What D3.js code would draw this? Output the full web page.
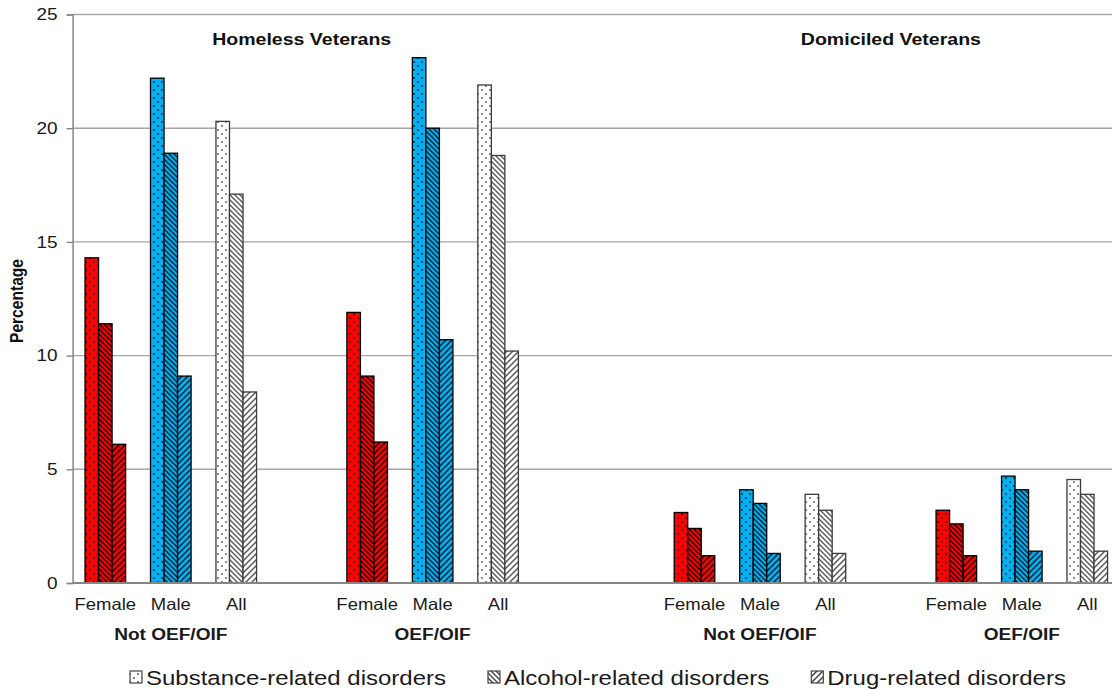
<!DOCTYPE html>
<html><head><meta charset="utf-8">
<script src="https://cdn.jsdelivr.net/npm/d3@7"></script>
<style>
html,body{margin:0;padding:0;background:#fff;}
svg{display:block;font-family:"Liberation Sans",Arial,sans-serif;}
</style></head>
<body>
<script>
// ---- data ----
const populations = ["Homeless Veterans", "Domiciled Veterans"];
const cohorts = ["Not OEF/OIF", "OEF/OIF"];
const genders = ["Female", "Male", "All"];
const seriesNames = ["Substance-related disorders", "Alcohol-related disorders", "Drug-related disorders"];
// order: Homeless NotOEF F,M,A | Homeless OEF F,M,A | Domiciled NotOEF F,M,A | Domiciled OEF F,M,A
const substance = [14.3, 22.2, 20.3, 11.9, 23.1, 21.9, 3.1, 4.1, 3.9, 3.2, 4.7, 4.55];
const alcohol   = [11.4, 18.9, 17.1, 9.1, 20.0, 18.8, 2.4, 3.5, 3.2, 2.6, 4.1, 3.9];
const drug      = [6.1, 9.1, 8.4, 6.2, 10.7, 10.2, 1.2, 1.3, 1.3, 1.2, 1.4, 1.4];
const yTicks = [0, 5, 10, 15, 20, 25];

// ---- layout ----
const W = 1112, H = 690;
const svg = d3.select("body").append("svg").attr("width", W).attr("height", H);
const plotL = 72.6, plotR = 1120, plotT = 14.5, plotB = 583;

// category slots including blank spacer slots
const slots = [];
populations.forEach((p, pi) => {
  cohorts.forEach((c, ci) => {
    genders.forEach(g => slots.push({key: p + "|" + c + "|" + g, p, c, g}));
    if (ci === 0) slots.push({key: "gap" + pi + "a", blank: true});
  });
  if (pi === 0) { slots.push({key: "gapM1", blank: true}); slots.push({key: "gapM2", blank: true}); }
});
const x = d3.scaleBand().domain(slots.map(s => s.key)).range([plotL, plotR]).paddingInner(0).paddingOuter(0);
const xs = d3.scaleBand().domain(seriesNames).range([0, x.bandwidth()]).paddingInner(0).paddingOuter(0.92);
const y = d3.scaleLinear().domain([0, 25]).range([plotB, plotT]);

const colors = {Female: "#ff0000", Male: "#00b0f0", All: "#ffffff"};
const inks = {Female: "#1a0000", Male: "#002030", All: "#5a5a5a"};
const strokes = {Female: "#000", Male: "#000", All: "#3a3a3a"};

// ---- patterns ----
const defs = svg.append("defs");
function makePattern(id, bg, ink, kind) {
  if (kind === 0) {
    const p = defs.append("pattern").attr("id", id).attr("patternUnits", "userSpaceOnUse").attr("width", 8).attr("height", 8);
    p.append("rect").attr("width", 8).attr("height", 8).attr("fill", bg);
    [[2, 2], [6, 6]].forEach(([cx, cy]) => p.append("circle").attr("cx", cx).attr("cy", cy).attr("r", 0.9).attr("fill", ink));
  } else if (kind === 1) {
    const s = 5;
    const p = defs.append("pattern").attr("id", id).attr("patternUnits", "userSpaceOnUse").attr("width", s).attr("height", s);
    p.append("rect").attr("width", s).attr("height", s).attr("fill", bg);
    p.append("path").attr("d", `M-1,-1L${s+1},${s+1}M-1,${s-1}L1,${s+1}M${s-1},-1L${s+1},1`).attr("stroke", ink).attr("stroke-width", 1.4);
  } else {
    const s = 6;
    const p = defs.append("pattern").attr("id", id).attr("patternUnits", "userSpaceOnUse").attr("width", s).attr("height", s);
    p.append("rect").attr("width", s).attr("height", s).attr("fill", bg);
    p.append("path").attr("d", `M-1,${s+1}L${s+1},-1M-1,1L1,-1M${s-1},${s+1}L${s+1},${s-1}`).attr("stroke", ink).attr("stroke-width", 1.5);
  }
}
genders.forEach(g => seriesNames.forEach((s, si) => makePattern(`pat-${g}-${si}`, colors[g], inks[g], si)));
seriesNames.forEach((s, si) => makePattern(`leg-${si}`, "#ffffff", "#444", si));

// ---- gridlines ----
svg.append("g").selectAll("line").data(yTicks.filter(t => t > 0)).join("line")
  .attr("x1", plotL).attr("x2", W).attr("y1", d => y(d)).attr("y2", d => y(d))
  .attr("stroke", "#a6a6a6").attr("stroke-width", 1.4);

// ---- bars ----
const dataSeries = [substance, alcohol, drug];
const barSlots = slots.filter(s => !s.blank);
const bars = [];
barSlots.forEach((s, i) => dataSeries.forEach((arr, si) => bars.push({slot: s, si, v: arr[i]})));
svg.append("g").selectAll("rect").data(bars).join("rect")
  .attr("x", d => x(d.slot.key) + xs(seriesNames[d.si]))
  .attr("width", xs.bandwidth())
  .attr("y", d => y(d.v))
  .attr("height", d => y(0) - y(d.v))
  .attr("fill", d => `url(#pat-${d.slot.g}-${d.si})`)
  .attr("stroke", d => strokes[d.slot.g]).attr("stroke-width", 1.3);

// ---- axes ----
const yAxis = svg.append("g").attr("transform", `translate(${plotL},0)`)
  .call(d3.axisLeft(y).tickValues(yTicks).tickSize(6).tickPadding(9));
yAxis.select(".domain").attr("stroke", "#868686").attr("stroke-width", 1.5);
yAxis.selectAll(".tick line").attr("stroke", "#868686").attr("stroke-width", 1.4);
yAxis.selectAll(".tick text").attr("font-size", 16.5).attr("fill", "#1a1a1a").attr("font-family", "Liberation Sans, Arial, sans-serif");

svg.append("line").attr("x1", plotL).attr("x2", W).attr("y1", y(0)).attr("y2", y(0))
  .attr("stroke", "#868686").attr("stroke-width", 2);

// widen/condense text to match the reference's rendering; returns the final length
function stretch(sel, k) {
  let last = 0;
  sel.each(function () {
    const len = this.getComputedTextLength();
    last = len * k;
    d3.select(this).attr("textLength", last).attr("lengthAdjust", "spacingAndGlyphs");
  });
  return last;
}
stretch(yAxis.selectAll(".tick text"), 1.15);

// gender labels
const gl = svg.append("g").selectAll("text").data(barSlots).join("text")
  .attr("x", d => x(d.key) + x.bandwidth() / 2).attr("y", 610)
  .attr("text-anchor", "middle").attr("font-size", 16.5).attr("fill", "#1a1a1a")
  .text(d => d.g);
stretch(gl, 1.12);

// cohort labels
const cohortItems = [];
populations.forEach(p => cohorts.forEach(c => cohortItems.push({p, c})));
const cl = svg.append("g").selectAll("text").data(cohortItems).join("text")
  .attr("x", d => x(d.p + "|" + d.c + "|Male") + x.bandwidth() / 2).attr("y", 640)
  .attr("text-anchor", "middle").attr("font-size", 16).attr("font-weight", "bold").attr("fill", "#1a1a1a")
  .text(d => d.c);
stretch(cl, 1.19);

// population titles (centered over the spacer after each population's first cohort)
const pt = svg.append("g").selectAll("text").data(populations).join("text")
  .attr("x", (d, i) => x("gap" + i + "a") + x.bandwidth() / 2).attr("y", 45)
  .attr("text-anchor", "middle").attr("font-size", 16).attr("font-weight", "bold").attr("fill", "#111")
  .text(d => d);
stretch(pt, 1.22);

// y title
const yt = svg.append("text").attr("transform", "translate(23,301) rotate(-90)")
  .attr("text-anchor", "middle").attr("font-size", 19).attr("font-weight", "bold").attr("fill", "#111")
  .text("Percentage");
stretch(yt, 0.82);

// ---- legend ----
const leg = svg.append("g");
let lx = 130;
seriesNames.forEach((s, si) => {
  leg.append("rect").attr("x", lx).attr("y", 671).attr("width", 12).attr("height", 12)
    .attr("fill", `url(#leg-${si})`).attr("stroke", "#444").attr("stroke-width", 1.2);
  const t = leg.append("text").attr("x", lx + 16).attr("y", 685).attr("font-size", 20.5).attr("fill", "#1a1a1a").text(s);
  const len = stretch(t, 1.17);
  lx += 16 + len + 42;
});
</script>
</body></html>
